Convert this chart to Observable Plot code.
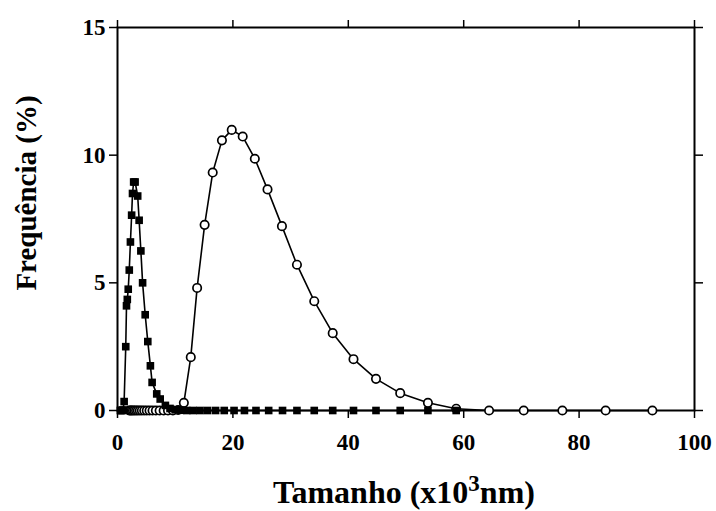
<!DOCTYPE html>
<html>
<head>
<meta charset="utf-8">
<script src="https://cdn.jsdelivr.net/npm/d3@7"></script>
<script src="https://cdn.jsdelivr.net/npm/@observablehq/plot@0.6"></script>
<style>
  html, body { margin: 0; padding: 0; background: #fff; }
  #chart { width: 716px; height: 511px; }
</style>
</head>
<body>
<div id="chart"></div>
<script>
// Filled squares series
const sqX = [0.5, 0.65, 0.8, 0.95, 1.15, 1.43, 1.56, 1.7, 1.86, 2.04, 2.24, 2.45, 2.6, 2.8, 3.05, 3.5, 3.75, 4.05, 4.35, 4.8, 5.25, 5.7, 6.0, 6.8, 7.4, 8.3, 9.1, 10.0, 11.0, 12.0, 13.1, 14.3, 15.6, 17.0, 18.5, 20.2, 22.0, 24.0, 26.2, 28.6, 31.1, 34.1, 37.3, 40.9, 44.8, 49.0, 53.8, 58.7];
const sqY = [0, 0, 0, 0.02, 0.35, 2.5, 4.1, 4.35, 4.75, 5.5, 6.6, 7.65, 8.5, 8.95, 8.95, 8.4, 7.45, 6.25, 5.0, 3.75, 2.7, 1.75, 1.1, 0.65, 0.45, 0.2, 0.08, 0.03, 0.01, 0, 0, 0, 0, 0, 0, 0, 0, 0, 0, 0, 0, 0, 0, 0, 0, 0, 0, 0];
// Open circles series
const ciX = [2.04, 2.24, 2.45, 2.68, 2.94, 3.22, 3.52, 3.86, 4.22, 4.63, 5.07, 5.55, 6.07, 6.65, 7.3, 8.0, 8.75, 9.6, 10.5, 11.5, 12.7, 13.8, 15.1, 16.5, 18.1, 19.8, 21.7, 23.8, 26.0, 28.5, 31.1, 34.1, 37.3, 40.9, 44.8, 49.0, 53.8, 58.7, 64.4, 70.4, 77.1, 84.6, 92.7];
const ciY = [0, 0, 0, 0, 0, 0, 0, 0, 0, 0, 0, 0, 0, 0, 0, 0, 0, 0, 0.02, 0.3, 2.09, 4.8, 7.27, 9.32, 10.58, 10.99, 10.73, 9.86, 8.66, 7.22, 5.71, 4.28, 3.03, 2.01, 1.24, 0.68, 0.3, 0.07, 0, 0, 0, 0, 0];

const xTicks = [0, 20, 40, 60, 80, 100];
const yTicks = [0, 5, 10, 15];
const xLabel = "Tamanho (x10";
const xLabelSup = "3";
const xLabelEnd = "nm)";
const yLabel = "Frequência (%)";

const squares = sqX.map((x, i) => ({x, y: sqY[i]}));
const circles = ciX.map((x, i) => ({x, y: ciY[i]}));

const W = 716, H = 511, ML = 117, MR = 22, MT = 27, MB = 101;
const font = "'Liberation Serif', 'Times New Roman', serif";
const blank = () => "";

const plot = Plot.plot({
  width: W,
  height: H,
  marginLeft: ML,
  marginRight: MR,
  marginTop: MT,
  marginBottom: MB,
  style: {fontFamily: font, fontWeight: "bold", fontSize: "23px", color: "#000", background: "#fff", overflow: "visible"},
  x: {domain: [0, 100], label: null},
  y: {domain: [0, 15], label: null},
  marks: [
    Plot.axisX({anchor: "bottom", ticks: xTicks, tickSize: 8, tickPadding: 15, fontSize: 23, fontWeight: "bold", label: null, strokeWidth: 1.5}),
    Plot.axisX({anchor: "top", ticks: xTicks, tickSize: 8, tickFormat: blank, label: null, strokeWidth: 1.5}),
    Plot.axisY({anchor: "left", ticks: yTicks, tickSize: 8, tickPadding: 4, fontSize: 23, fontWeight: "bold", label: null, strokeWidth: 1.5}),
    Plot.axisY({anchor: "right", ticks: yTicks, tickSize: 8, tickFormat: blank, label: null, strokeWidth: 1.5}),
    Plot.frame({stroke: "#000", strokeWidth: 2}),
    Plot.line(circles, {x: "x", y: "y", stroke: "#000", strokeWidth: 1.6}),
    Plot.dot(circles, {x: "x", y: "y", r: 4.2, fill: "#fff", stroke: "#000", strokeWidth: 1.7}),
    Plot.line(squares, {x: "x", y: "y", stroke: "#000", strokeWidth: 1.6}),
    Plot.dot(squares, {x: "x", y: "y", symbol: "square", r: 4.3, fill: "#000", stroke: "none"})
  ]
});

const svg = d3.select(plot);
// x axis title with superscript
const xt = svg.append("text")
  .attr("x", 404)
  .attr("y", 503)
  .attr("text-anchor", "middle")
  .attr("font-family", font)
  .attr("font-weight", "bold")
  .attr("font-size", 32)
  .attr("fill", "#000");
xt.append("tspan").text(xLabel);
xt.append("tspan").attr("dy", -12).attr("font-size", 23).text(xLabelSup);
xt.append("tspan").attr("dy", 12).text(xLabelEnd);

// y axis title
svg.append("text")
  .attr("transform", `translate(36, 193) rotate(-90)`)
  .attr("text-anchor", "middle")
  .attr("font-family", font)
  .attr("font-weight", "bold")
  .attr("font-size", 29)
  .attr("fill", "#000")
  .text(yLabel);

document.getElementById("chart").appendChild(plot);
</script>
</body>
</html>
